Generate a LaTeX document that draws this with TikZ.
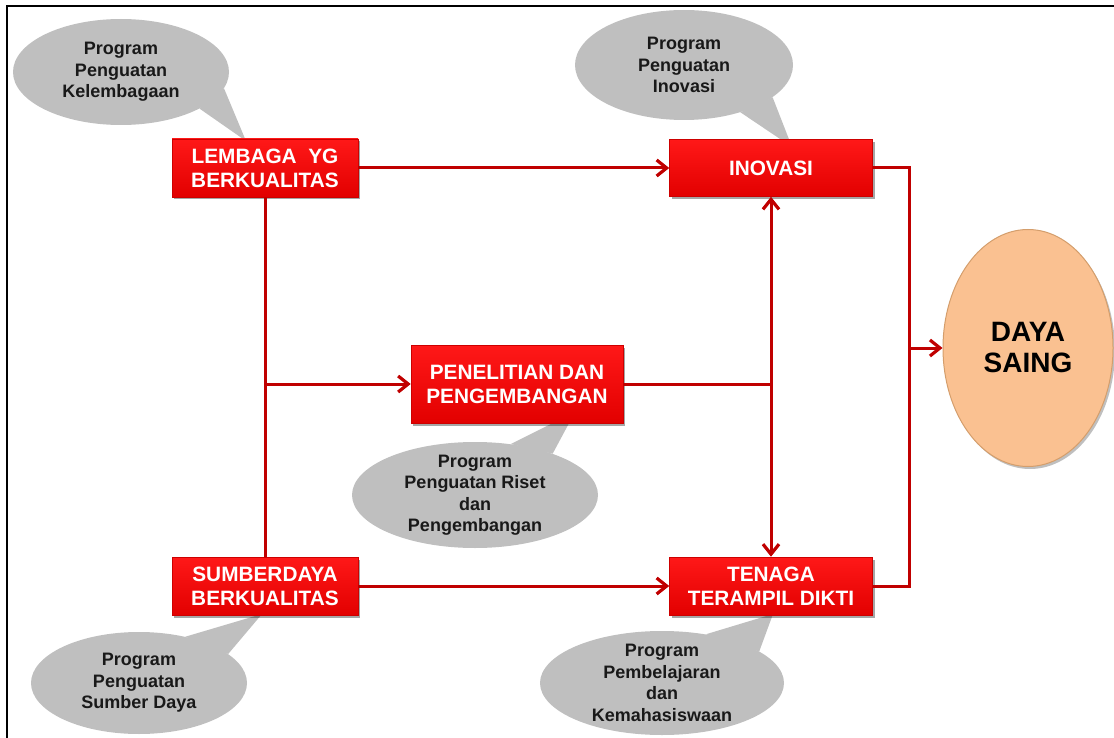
\documentclass[tikz,border=0pt]{standalone}
\usepackage{fontspec}
\setmainfont{Liberation Sans}
\usetikzlibrary{arrows.meta,shapes.geometric,shadows}
\definecolor{linkred}{RGB}{192,0,0}
\definecolor{boxtop}{RGB}{255,24,24}
\definecolor{boxbot}{RGB}{226,0,0}
\definecolor{boxline}{RGB}{205,0,0}
\definecolor{bubgray}{RGB}{191,191,191}
\definecolor{bubtext}{RGB}{25,25,25}
\definecolor{peach}{RGB}{250,193,145}
\definecolor{peachline}{RGB}{212,158,108}

\begin{document}
\begin{tikzpicture}[x=1pt,y=-1pt,
  stagebox/.style={rectangle, draw=boxline, line width=0.6pt,
    top color=boxtop, bottom color=boxbot, text=white,
    font=\bfseries\fontsize{20.8}{24}\selectfont, align=center, inner sep=0pt,
    drop shadow={shadow xshift=2pt, shadow yshift=-2.5pt, opacity=0.35, fill=black}},
  link/.style={draw=linkred, line width=3pt},
  tip/.style={-{Straight Barb[length=10pt,width=16pt,line width=3.2pt]}},
  bubble/.style={ellipse, fill=bubgray, inner sep=0pt},
  bubtail/.style={fill=bubgray},
  note/.style={text=bubtext, font=\bfseries\fontsize{18}{21.5}\selectfont, align=center, inner sep=0pt},
  goal/.style={ellipse, fill=peach, draw=peachline, line width=1pt,
    minimum width=170pt, minimum height=237pt, inner sep=0pt,
    font=\bfseries\fontsize{28}{31}\selectfont, align=center, text=black,
    drop shadow={shadow xshift=2pt, shadow yshift=-2.5pt, opacity=0.25, fill=black}}
]
\useasboundingbox (0,0) rectangle (1114,738);

% outer frame (top and left edges)
\draw[line width=2.5pt] (7,738) -- (7,6) -- (1114,6);

% callout bubbles (drawn first so boxes sit on top of the tails)
\node[bubble, minimum width=216pt, minimum height=106pt] (bKel) at (121,72) {};
\coordinate (tKel) at (246,141);
\fill[bubtail] (bKel.-25) -- (tKel) -- (bKel.-9) -- cycle;
\node[note] (nKel) at (bKel) {Program\\Penguatan\\Kelembagaan};

\node[bubble, minimum width=218pt, minimum height=110pt] (bIno) at (684,65) {};
\coordinate (tIno) at (792,147);
\fill[bubtail] (bIno.-40) -- (tIno) -- (bIno.-20) -- cycle;
\node[note] (nIno) at (bIno) {Program\\Penguatan\\Inovasi};

\node[bubble, minimum width=246pt, minimum height=106pt] (bRis) at (475,495) {};
\coordinate (tRis) at (575,412);
\fill[bubtail] (bRis.55) -- (tRis) -- (bRis.28) -- cycle;
\node[note] (nRis) at (bRis) {Program\\Penguatan Riset\\dan\\Pengembangan};

\node[bubble, minimum width=216pt, minimum height=102pt] (bSum) at (139,683) {};
\coordinate (tSum) at (262,614);
\fill[bubtail] (bSum.45) -- (tSum) -- (bSum.18) -- cycle;
\node[note] (nSum) at (bSum) {Program\\Penguatan\\Sumber Daya};

\node[bubble, minimum width=244pt, minimum height=104pt] (bPem) at (662,683) {};
\coordinate (tPem) at (773,614);
\fill[bubtail] (bPem.48) -- (tPem) -- (bPem.18) -- cycle;
\node[note] (nPem) at (bPem) {Program\\Pembelajaran\\dan\\Kemahasiswaan};

% stage boxes
\node[stagebox, minimum width=186pt, minimum height=58pt] (lem) at (265,168) {LEMBAGA~~YG\\BERKUALITAS};
\node[stagebox, minimum width=203pt, minimum height=57pt] (ino) at (771,168) {INOVASI};
\node[stagebox, minimum width=212pt, minimum height=78pt] (pen) at (517,384) {PENELITIAN DAN\\PENGEMBANGAN};
\node[stagebox, minimum width=186pt, minimum height=58pt] (sum) at (265,586) {SUMBERDAYA\\BERKUALITAS};
\node[stagebox, minimum width=203pt, minimum height=58pt] (ten) at (771,586) {TENAGA\\TERAMPIL DIKTI};

% goal
\node[goal] (daya) at (1028,348) {DAYA\\SAING};

% connectors
\draw[link, tip] (lem.east) -- (ino.west);
\draw[link, tip] (sum.east) -- (ten.west);
\draw[link, tip] (lem.south) |- (pen.west);
\draw[link] (sum.north) -- (lem.south |- pen.west);
\coordinate (jr) at (ino.south |- pen.east);
\draw[link] (pen.east) -- (jr);
\draw[link, tip] (jr) -- (ino.south);
\draw[link, tip] (jr) -- (ten.north);
\coordinate (busx) at (909,0);
\draw[link] (ino.east) -- (ino.east -| busx) -- (ten.east -| busx) -- (ten.east);
\draw[link, tip] (daya.west -| busx) -- (daya.west);
\end{tikzpicture}
\end{document}
